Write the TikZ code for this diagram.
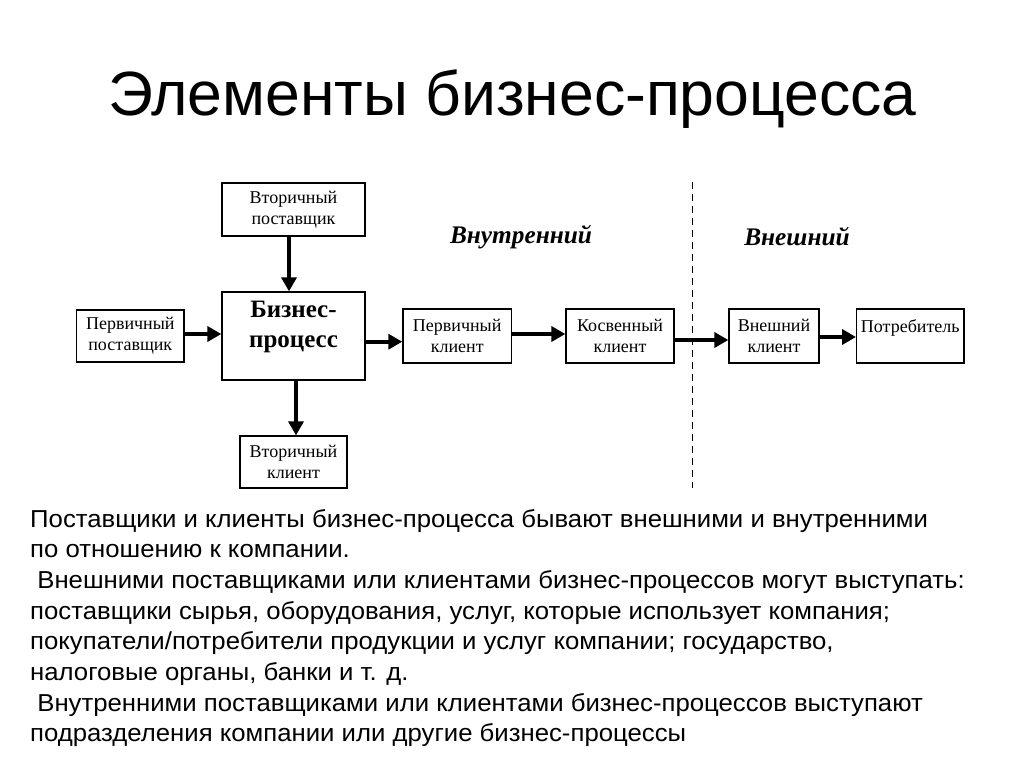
\documentclass[tikz,border=0pt]{standalone}
\usepackage{fontspec}
\setmainfont{Liberation Serif}
\newfontfamily\arialf{Liberation Sans}
\usetikzlibrary{arrows.meta}
\newcommand{\widetext}[1]{\scalebox{1.05}[1]{#1}}
\begin{document}
\begin{tikzpicture}[x=1pt,y=-1pt,
  box/.style={draw, line width=1.3pt, inner sep=0pt, align=center,
    font=\fontsize{18}{20.7}\selectfont},
  arr/.style={line width=4pt, -{Triangle[length=14pt,width=15pt]}},
  body/.style={anchor=base west, inner sep=0pt, font=\arialf\fontsize{24.5}{28}\selectfont},
  lab/.style={inner sep=0pt, font=\bfseries\itshape\fontsize{25.3}{28}\selectfont},
  divider/.style={line width=1.4pt, dash pattern=on 7pt off 5pt}]
\useasboundingbox (0,0) rectangle (1024,767);
\fill[white] (0,0) rectangle (1024,767);

% title
\node[anchor=base west, inner sep=0pt, font=\arialf\fontsize{62.5}{72}\selectfont] (title) at (108,116) {Элементы бизнес-процесса};

% boxes
\node[box, minimum width=143pt, minimum height=53pt] (vp) at (293.5,209.5) {Вторичный\\поставщик};
\node[box, minimum width=143pt, minimum height=88pt] (bp) at (293.5,336) {};
\node[inner sep=0pt, align=center, font=\bfseries\fontsize{25}{30}\selectfont] (bpt) at (293.5,327) {Бизнес-\\процесс};
\node[box, minimum width=107.3pt, minimum height=52pt] (pp) at (130.3,336) {Первичный\\поставщик};
\node[box, minimum width=108.5pt, minimum height=54pt] (pk) at (457.2,336) {Первичный\\клиент};
\node[box, minimum width=108pt, minimum height=54pt] (kk) at (620,336) {Косвенный\\клиент};
\node[box, minimum width=90pt, minimum height=54pt] (vnk) at (774,336) {Внешний\\клиент};
\node[box, minimum width=107.3pt, minimum height=54pt] (potr) at (910.3,336) {Потребитель\\\mbox{}};
\node[box, minimum width=107pt, minimum height=52pt] (vk) at (293.5,462) {Вторичный\\клиент};

% labels
\node[lab] (inner) at (521,237) {Внутренний};
\node[lab] (outer) at (797,237) {Внешний};

% divider
\coordinate (d1) at (692.7,182);
\coordinate (d2) at (692.7,488);
\draw[divider] (d1) -- (d2);

% arrows
\draw[arr] ([xshift=-4.5pt]vp.south) -- ([xshift=-4.5pt]bp.north);
\draw[arr] ([yshift=2pt]pp.east) -- ([yshift=2pt]bp.west);
\draw[arr] ([yshift=-5.7pt]bp.east) -- ([yshift=-5.7pt]pk.west);
\draw[arr] ([xshift=2.5pt]bp.south) -- ([xshift=2.5pt]vk.north);
\draw[arr] ([yshift=2pt]pk.east) -- ([yshift=2pt]kk.west);
\draw[arr] ([yshift=-4pt]kk.east) -- ([yshift=-4pt]vnk.west);
\draw[arr] ([yshift=-1pt]vnk.east) -- ([yshift=-1pt]potr.west);

% body text
\node[body] (l1) at (30,527) {\widetext{Поставщики и клиенты бизнес-процесса бывают внешними и внутренними}};
\node[body] (l2) at (30,557.7) {\widetext{по отношению к компании.}};
\node[body] (l3) at (30,588.4) {\widetext{\ Внешними поставщиками или клиентами бизнес-процессов могут выступать:}};
\node[body] (l4) at (30,619.1) {\widetext{поставщики сырья, оборудования, услуг, которые использует компания;}};
\node[body] (l5) at (30,649.8) {\widetext{покупатели/потребители продукции и услуг компании; государство,}};
\node[body] (l6) at (30,680.5) {\widetext{налоговые органы, банки и т. д.}};
\node[body] (l7) at (30,711.2) {\widetext{\ Внутренними поставщиками или клиентами бизнес-процессов выступают}};
\node[body] (l8) at (30,741.9) {\widetext{подразделения компании или другие бизнес-процессы}};
\end{tikzpicture}
\end{document}
